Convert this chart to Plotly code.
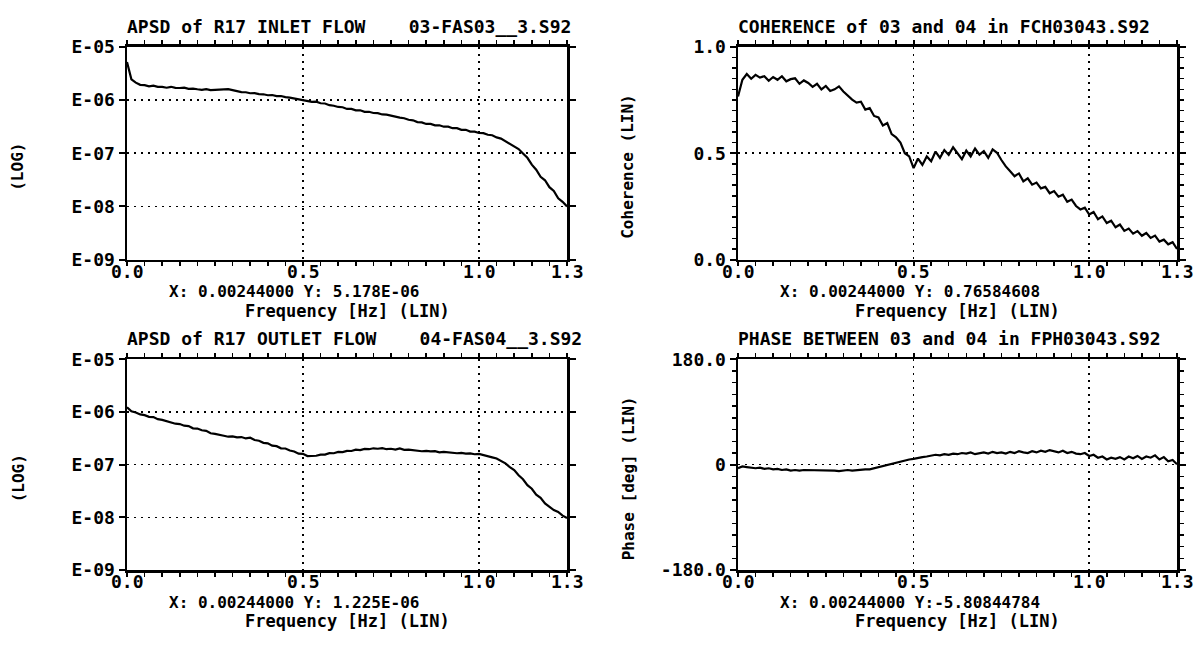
import plotly.graph_objects as go

# ---------------- data ----------------
freq = [0.0, 0.0125, 0.025, 0.0375, 0.05, 0.0625, 0.075, 0.0875,
        0.1, 0.1125, 0.125, 0.1375, 0.15, 0.1625, 0.175, 0.1875,
        0.2, 0.2125, 0.225, 0.2375, 0.25, 0.2625, 0.275, 0.2875,
        0.3, 0.3125, 0.325, 0.3375, 0.35, 0.3625, 0.375, 0.3875,
        0.4, 0.4125, 0.425, 0.4375, 0.45, 0.4625, 0.475, 0.4875,
        0.5, 0.5125, 0.525, 0.5375, 0.55, 0.5625, 0.575, 0.5875,
        0.6, 0.6125, 0.625, 0.6375, 0.65, 0.6625, 0.675, 0.6875,
        0.7, 0.7125, 0.725, 0.7375, 0.75, 0.7625, 0.775, 0.7875,
        0.8, 0.8125, 0.825, 0.8375, 0.85, 0.8625, 0.875, 0.8875,
        0.9, 0.9125, 0.925, 0.9375, 0.95, 0.9625, 0.975, 0.9875,
        1.0, 1.0125, 1.025, 1.0375, 1.05, 1.0625, 1.075, 1.0875,
        1.1, 1.1125, 1.125, 1.1375, 1.15, 1.1625, 1.175, 1.1875,
        1.2, 1.2125, 1.225, 1.2375, 1.25]

# APSD values in units of 1E-06
inlet_apsd_micro = [5.18, 2.45, 2.12, 1.93, 1.90, 1.80, 1.86, 1.77,
                    1.76, 1.70, 1.77, 1.69, 1.68, 1.71, 1.62, 1.64,
                    1.59, 1.55, 1.60, 1.53, 1.55, 1.58, 1.56, 1.60,
                    1.53, 1.47, 1.41, 1.40, 1.34, 1.35, 1.29, 1.28,
                    1.23, 1.24, 1.18, 1.19, 1.13, 1.11, 1.07, 1.06,
                    1.00, 0.97, 0.92, 0.93, 0.87, 0.86, 0.80, 0.78,
                    0.74, 0.73, 0.68, 0.68, 0.64, 0.64, 0.60, 0.60,
                    0.57, 0.565, 0.535, 0.53, 0.505, 0.495, 0.465, 0.455,
                    0.425, 0.415, 0.385, 0.38, 0.355, 0.355, 0.335, 0.335,
                    0.315, 0.315, 0.295, 0.295, 0.275, 0.275, 0.255, 0.255,
                    0.24, 0.238, 0.222, 0.218, 0.198, 0.188, 0.168, 0.152,
                    0.133, 0.12, 0.099, 0.082, 0.061, 0.049, 0.036, 0.031,
                    0.023, 0.0195, 0.0142, 0.0122, 0.010]

outlet_apsd_micro = [1.23, 1.03, 0.98, 0.90, 0.87, 0.81, 0.80, 0.73,
                     0.71, 0.67, 0.65, 0.60, 0.59, 0.55, 0.54, 0.49,
                     0.485, 0.45, 0.44, 0.395, 0.385, 0.365, 0.355, 0.34,
                     0.345, 0.33, 0.335, 0.315, 0.325, 0.295, 0.285, 0.26,
                     0.255, 0.23, 0.225, 0.205, 0.203, 0.186, 0.178, 0.162,
                     0.161, 0.146, 0.147, 0.148, 0.155, 0.156, 0.166, 0.165,
                     0.175, 0.173, 0.183, 0.182, 0.193, 0.19, 0.199, 0.197,
                     0.205, 0.201, 0.206, 0.197, 0.201, 0.193, 0.203, 0.191,
                     0.193, 0.189, 0.189, 0.18, 0.183, 0.179, 0.181, 0.172,
                     0.176, 0.173, 0.172, 0.165, 0.168, 0.163, 0.164, 0.158,
                     0.16, 0.153, 0.149, 0.138, 0.131, 0.116, 0.106, 0.09,
                     0.079, 0.063, 0.053, 0.041, 0.035, 0.027, 0.0235, 0.0185,
                     0.0162, 0.0138, 0.0127, 0.0108, 0.0098]

coherence = [0.766, 0.845, 0.872, 0.85, 0.868, 0.855, 0.862, 0.84,
             0.858, 0.845, 0.862, 0.838, 0.848, 0.852, 0.826, 0.842,
             0.83, 0.812, 0.826, 0.80, 0.816, 0.792, 0.80, 0.814,
             0.79, 0.77, 0.752, 0.738, 0.742, 0.705, 0.712, 0.675,
             0.668, 0.63, 0.642, 0.59, 0.575, 0.55, 0.50, 0.485,
             0.43, 0.475, 0.445, 0.485, 0.462, 0.508, 0.478, 0.515,
             0.492, 0.528, 0.50, 0.472, 0.512, 0.485, 0.522, 0.493,
             0.51, 0.478, 0.518, 0.502, 0.468, 0.438, 0.415, 0.392,
             0.405, 0.368, 0.382, 0.352, 0.362, 0.335, 0.342, 0.312,
             0.322, 0.296, 0.305, 0.272, 0.282, 0.252, 0.236, 0.244,
             0.212, 0.224, 0.19, 0.203, 0.172, 0.183, 0.152, 0.165,
             0.135, 0.146, 0.122, 0.134, 0.112, 0.125, 0.102, 0.113,
             0.085, 0.094, 0.072, 0.082, 0.05]

phase_deg = [-5.8, -3, -4, -5, -6, -5, -7, -6,
             -8, -7, -9, -8, -10, -9, -10, -9,
             -9, -10, -9, -10, -10, -9, -10, -11,
             -10, -9, -10, -9, -9, -8, -8, -6,
             -5, -3, -1, 1, 3, 5, 7, 9,
             10, 12, 13, 14, 15, 17, 16, 18,
             17, 19, 18, 20, 19, 21, 18, 20,
             21, 19, 22, 20, 21, 19, 22, 20,
             23, 21, 20, 23, 21, 24, 22, 25,
             23, 21, 24, 20, 22, 19, 18, 20,
             15, 17, 12, 14, 9, 12, 10, 13,
             9, 14, 11, 15, 10, 14, 12, 16,
             9, 13, 6, 8, 1]

x_tickvals = [0.0, 0.5, 1.0, 1.25]
x_ticktext = ["0.0", "0.5", "1.0", "1.3"]
log_tickvals = [1e-9, 1e-8, 1e-7, 1e-6, 1e-5]
log_ticktext = ["E-09", "E-08", "E-07", "E-06", "E-05"]
coh_tickvals = [0.0, 0.5, 1.0]
coh_ticktext = ["0.0", "0.5", "1.0"]
ph_tickvals = [-180, 0, 180]
ph_ticktext = ["-180.0", "0", "180.0"]

titles = ["APSD of R17 INLET FLOW    03-FAS03__3.S92",
          "COHERENCE of 03 and 04 in FCH03043.S92",
          "APSD of R17 OUTLET FLOW    04-FAS04__3.S92",
          "PHASE BETWEEN 03 and 04 in FPH03043.S92"]
cursor_texts = ["X: 0.00244000 Y: 5.178E-06",
                "X: 0.00244000 Y: 0.76584608",
                "X: 0.00244000 Y: 1.225E-06",
                "X: 0.00244000 Y:-5.80844784"]
x_label = "Frequency [Hz] (LIN)"
y_labels = ["(LOG)", "Coherence (LIN)", "(LOG)", "Phase [deg] (LIN)"]

# ---------------- layout geometry (pixels) ----------------
W, H = 1202, 645
COLS = [(127, 567), (738, 1177)]
ROWS = [(37, 257), (360, 578)]

def px(x):
    return x / W

def py(y):
    return 1 - y / H

FAM = "DejaVu Sans Mono"
FONT = dict(family=FAM, size=18, color="black", weight="bold")
TICK = dict(family=FAM, size=18, color="black", weight="bold")
CURS = dict(family=FAM, size=16, color="black", weight="bold")
XLAB = dict(family=FAM, size=17, color="black", weight="bold")
YLAB = dict(family=FAM, size=16, color="black", weight="bold")

fig = go.Figure()

inlet = [v * 1e-6 for v in inlet_apsd_micro]
outlet = [v * 1e-6 for v in outlet_apsd_micro]
series = [inlet, coherence, outlet, phase_deg]

axis_common = dict(showline=True, linewidth=2.5, linecolor="black",
                   mirror="ticks", ticks="outside", tickwidth=2,
                   tickcolor="black", showgrid=True, gridcolor="black",
                   gridwidth=1.5, griddash="2px,5px", zeroline=False,
                   tickfont=TICK, fixedrange=True)

layout = dict(width=W, height=H, margin=dict(l=0, r=0, t=0, b=0),
              paper_bgcolor="white", plot_bgcolor="white", showlegend=False)
annotations = []

for i in range(4):
    r, c = divmod(i, 2)
    x0, x1 = COLS[c]
    y0, y1 = ROWS[r]
    n = "" if i == 0 else str(i + 1)
    fig.add_trace(go.Scatter(x=freq, y=series[i], mode="lines",
                             line=dict(color="black", width=2.2),
                             xaxis="x" + n, yaxis="y" + n, hoverinfo="skip"))
    xa = dict(axis_common, domain=[px(x0), px(x1)], anchor="y" + n,
              range=[0, 1.25], tickmode="array", tickvals=x_tickvals,
              ticktext=x_ticktext, ticklen=4, showticklabels=False,
              minor=dict(tickmode="linear", tick0=0, dtick=0.05,
                         ticks="outside", ticklen=4, tickwidth=1.5,
                         tickcolor="black", showgrid=False))
    ya = dict(axis_common, domain=[py(y1), py(y0)], anchor="x" + n,
              ticklen=6)
    if i in (0, 2):
        ya.update(type="log", range=[-9, -5], tickmode="array",
                  tickvals=log_tickvals, ticktext=log_ticktext)
    elif i == 1:
        ya.update(range=[0, 1], tickmode="array", tickvals=coh_tickvals,
                  ticktext=coh_ticktext,
                  minor=dict(tickmode="linear", tick0=0, dtick=0.05,
                             ticks="outside", ticklen=4, tickwidth=1.5,
                             tickcolor="black", showgrid=False))
    else:
        ya.update(range=[-180, 180], tickmode="array", tickvals=ph_tickvals,
                  ticktext=ph_ticktext,
                  minor=dict(tickmode="linear", tick0=0, dtick=20,
                             ticks="outside", ticklen=4, tickwidth=1.5,
                             tickcolor="black", showgrid=False))
    layout["xaxis" + n] = xa
    layout["yaxis" + n] = ya

    # x tick labels, placed on the axis' own scale, close to the axis line
    for tv, tt in zip(x_tickvals, x_ticktext):
        annotations.append(dict(text=tt, x=tv, xref="x" + n,
                                y=py(y1 + 12), yref="paper",
                                xanchor="center", yanchor="middle",
                                showarrow=False, font=TICK))
    # title
    annotations.append(dict(text=titles[i], x=px(x0 - 2), y=py(y0 - 21),
                            xref="paper", yref="paper", xanchor="left",
                            yanchor="middle", showarrow=False, font=FONT))
    # cursor readout
    annotations.append(dict(text=cursor_texts[i], x=px(x0 + 40),
                            y=py(y1 + 33), xref="paper", yref="paper",
                            xanchor="left", yanchor="middle",
                            showarrow=False, font=CURS))
    # x label
    annotations.append(dict(text=x_label, x=px((x0 + x1) / 2),
                            y=py(y1 + 53), xref="paper", yref="paper",
                            xanchor="center", yanchor="middle",
                            showarrow=False, font=XLAB))
    # y label
    ylx = 18 if c == 0 else 628
    annotations.append(dict(text=y_labels[i], x=px(ylx),
                            y=py((y0 + y1) / 2 + 14), xref="paper",
                            yref="paper", xanchor="center",
                            yanchor="middle", textangle=-90,
                            showarrow=False, font=YLAB))

layout["annotations"] = annotations
fig.update_layout(**layout)
fig.write_html("out.html",
               config={"displayModeBar": False, "staticPlot": True},
               post_script="document.body.style.margin='0';"
                           "document.body.style.overflow='hidden';")
